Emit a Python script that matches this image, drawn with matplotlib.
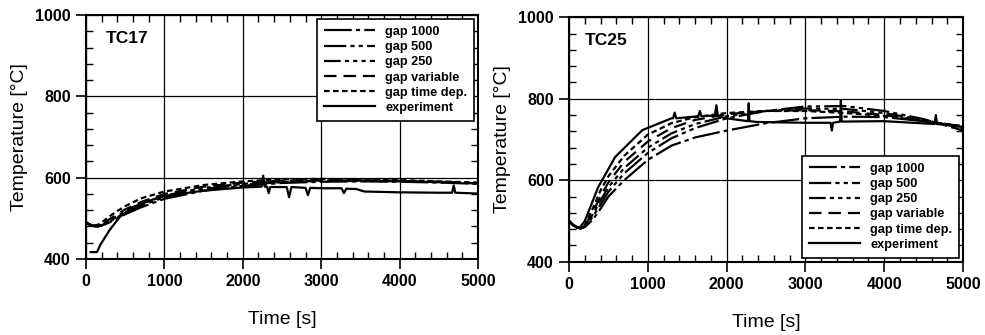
import matplotlib
matplotlib.use('Agg')
import matplotlib.pyplot as plt
from matplotlib import font_manager
from matplotlib.ticker import MultipleLocator

plt.rcParams['font.family'] = ['Liberation Sans', 'DejaVu Sans']
plt.rcParams['lines.scale_dashes'] = False

# narrow face for the legend if it is there
names = {f.name for f in font_manager.fontManager.ttflist}
leg_family = 'Liberation Sans Narrow' if 'Liberation Sans Narrow' in names else 'Liberation Sans'

# TC17 (left panel)
t17 = [0, 50, 100, 150, 200, 300, 400, 500, 700, 1000, 1500, 2000, 2500, 3000, 3500, 4000, 4500, 5000]
gap1000_17 = [490, 484, 481, 480, 482, 490, 500, 510, 527, 548, 568, 580, 587, 590, 591, 590, 588, 585]
gap500_17 = [490, 484, 481, 480, 483, 492, 503, 513, 531, 552, 572, 583, 589, 592, 592, 591, 589, 586]
gap250_17 = [490, 484, 481, 481, 484, 494, 506, 517, 535, 556, 575, 585, 591, 593, 593, 592, 590, 587]
gapvar_17 = [490, 484, 482, 482, 486, 498, 510, 522, 540, 560, 578, 588, 593, 595, 594, 592, 590, 586]
gaptime_17 = [490, 485, 483, 484, 490, 505, 518, 530, 549, 566, 582, 591, 596, 597, 596, 594, 591, 588]

exp17_t = [60, 140, 160, 180, 300, 430, 600, 800, 1000, 1500, 2000, 2240, 2260, 2280, 2310, 2330,
           2350, 2560, 2590, 2620, 2800, 2830, 2860, 3000, 3260, 3290, 3320, 3450, 3550, 4000,
           4500, 4670, 4690, 4710, 5000]
exp17_T = [417, 417, 425, 434, 471, 503, 528, 543, 555, 568, 576, 578, 605, 578, 578, 562,
           577, 577, 552, 577, 575, 557, 575, 574, 574, 562, 573, 572, 566, 564,
           563, 563, 581, 563, 561]

# TC25 (right panel)
t25 = [0, 50, 100, 150, 200, 300, 400, 500, 700, 1000, 1300, 1600, 2000, 2500, 3000, 3500, 4000, 4500, 5000]
gaptime_25 = [500, 490, 484, 482, 490, 530, 575, 610, 660, 712, 740, 755, 765, 770, 770, 765, 758, 745, 733]
gapvar_25 = [500, 490, 484, 482, 488, 522, 560, 595, 645, 695, 728, 748, 762, 770, 772, 769, 760, 746, 732]
gap250_25 = [500, 490, 484, 482, 487, 516, 550, 583, 630, 680, 715, 738, 757, 770, 776, 775, 765, 748, 728]
gap500_25 = [500, 490, 484, 482, 486, 510, 540, 572, 617, 667, 703, 728, 752, 770, 781, 782, 770, 750, 722]
gap1000_25 = [500, 490, 484, 482, 485, 503, 530, 560, 600, 650, 685, 705, 722, 740, 752, 756, 755, 745, 730]

exp25_t = [60, 130, 200, 370, 585, 930, 1300, 1320, 1340, 1360, 1640, 1660, 1680, 1850, 1870,
           1890, 2000, 2270, 2280, 2290, 2385, 3000, 3320, 3335, 3350, 3440, 3450, 3460, 4000,
           4640, 4655, 4670, 5000]
exp25_T = [490, 482, 500, 583, 657, 723, 752, 752, 766, 752, 757, 770, 757, 759, 784,
           757, 752, 745, 789, 745, 743, 741, 741, 722, 741, 744, 796, 744, 745,
           738, 760, 738, 731]

labels = ['gap 1000', 'gap 500', 'gap 250', 'gap variable', 'gap time dep.', 'experiment']
styles = [(0, (20, 3, 3, 3)),
          (0, (16, 3, 3, 3, 3, 3)),
          (0, (12, 3, 3, 3, 3, 3, 3, 3)),
          (0, (9, 5)),
          (0, (4, 2.5)),
          '-']

fig = plt.figure(figsize=(9.85, 3.35), dpi=100)
ax1 = fig.add_axes([0.0873, 0.2269, 0.398, 0.728])
ax2 = fig.add_axes([0.5777, 0.2188, 0.400, 0.7296])

panels = [
    (ax1, 'TC17', t17, [gap1000_17, gap500_17, gap250_17, gapvar_17, gaptime_17], exp17_t, exp17_T,
     'upper right', 0.05, 0.905),
    (ax2, 'TC25', t25, [gap1000_25, gap500_25, gap250_25, gapvar_25, gaptime_25], exp25_t, exp25_T,
     'lower right', 0.04, 0.903),
]

for ax, name, t, sims, et, eT, loc, tx, ty in panels:
    for y, ls, lab in zip(sims, styles[:5], labels[:5]):
        ax.plot(t, y, color='black', linestyle=ls, linewidth=1.6, label=lab)
    ax.plot(et, eT, color='black', linestyle='-', linewidth=1.6, label=labels[5])

    ax.set_xlim(0, 5000)
    ax.set_ylim(400, 1000)
    ax.xaxis.set_major_locator(MultipleLocator(1000))
    ax.xaxis.set_minor_locator(MultipleLocator(200))
    ax.yaxis.set_major_locator(MultipleLocator(200))
    ax.yaxis.set_minor_locator(MultipleLocator(40))
    ax.grid(True, which='major', color='black', linewidth=0.9)
    ax.tick_params(which='major', direction='out', length=7, width=1.2, pad=4,
                   labelsize=11.5)
    ax.tick_params(which='minor', direction='in', length=5, width=1.0,
                   top=True, right=True)
    for lbl in ax.get_xticklabels() + ax.get_yticklabels():
        lbl.set_fontweight('bold')
    for sp in ax.spines.values():
        sp.set_linewidth(1.5)

    ax.set_xlabel('Time [s]', fontsize=14, labelpad=16)
    ax.set_ylabel('Temperature [°C]', fontsize=14, labelpad=5)
    ax.text(tx, ty, name, transform=ax.transAxes, fontsize=12.5, fontweight='bold',
            va='center', ha='left')

    leg = ax.legend(loc=loc, handlelength=4.0, labelspacing=0.25,
                    borderaxespad=0.3, fancybox=False, framealpha=1, borderpad=0.55,
                    handletextpad=0.8,
                    prop={'family': leg_family, 'weight': 'bold', 'size': 9.2})
    leg.get_frame().set_edgecolor('black')
    leg.get_frame().set_linewidth(1.2)

fig.savefig('out.png', dpi=100)
